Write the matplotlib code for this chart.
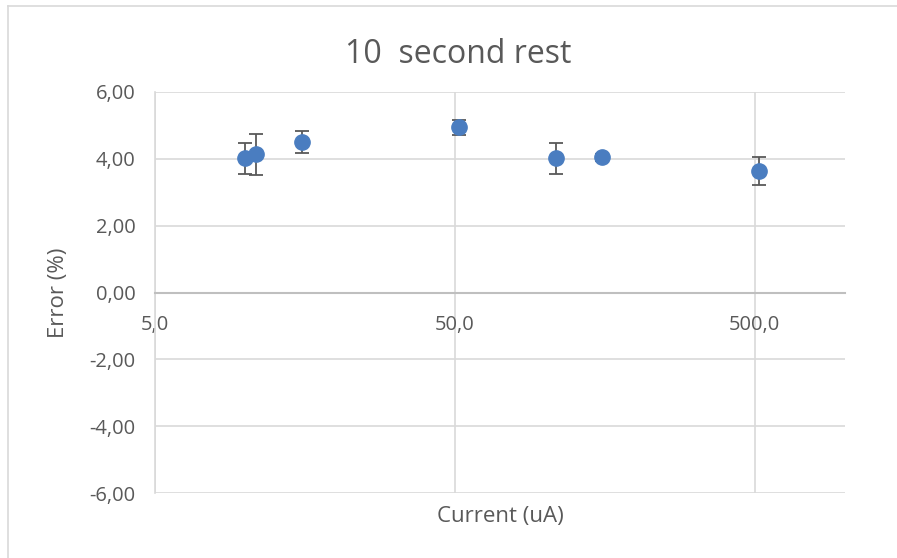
import numpy as np
import matplotlib.pyplot as plt
from matplotlib.ticker import FixedLocator, FuncFormatter, NullLocator
from matplotlib.lines import Line2D

plt.rcParams['font.family'] = ['Open Sans', 'DejaVu Sans']

# --- datos -------------------------------------------------------------
corriente = [10.0, 10.9, 15.5, 51.6, 109.0, 155.0, 515.0]   # uA
error_pct = [4.01, 4.13, 4.51, 4.94, 4.01, 4.04, 3.63]      # %
desv = [0.45, 0.60, 0.33, 0.23, 0.45, 0.10, 0.42]

x_ticks = [5.0, 50.0, 500.0]
y_ticks = [-6, -4, -2, 0, 2, 4, 6]

gris = '#595959'
grid_c = '#d9d9d9'

fig = plt.figure(figsize=(8.97, 5.58), dpi=100)
ax = fig.add_axes([155/897, 1-493/558, 690/897, 401/558])

ax.set_xscale('log')
ax.set_xlim(5, 1000)
ax.set_ylim(-6, 6)

ax.errorbar(corriente, error_pct, yerr=desv, fmt='o', color='#4a7dc0',
            markersize=11, ecolor=gris, elinewidth=1.3, capsize=4.7,
            capthick=1.3, zorder=3)

ax.xaxis.set_major_locator(FixedLocator(x_ticks))
ax.xaxis.set_minor_locator(NullLocator())
ax.xaxis.set_major_formatter(FuncFormatter(lambda v, p: f'{v:.1f}'.replace('.', ',')))
ax.yaxis.set_major_locator(FixedLocator(y_ticks))
ax.yaxis.set_major_formatter(FuncFormatter(lambda v, p: f'{v:.2f}'.replace('.', ',')))

ax.grid(True, color=grid_c, linewidth=1.2, zorder=0)
ax.set_axisbelow(True)

# eje x cruza en y = 0
for s in ['top', 'right']:
    ax.spines[s].set_visible(False)
ax.spines['bottom'].set_position(('data', 0))
ax.spines['bottom'].set_color('#bfbfbf')
ax.spines['bottom'].set_linewidth(1.5)
ax.spines['left'].set_color(grid_c)
ax.spines['left'].set_linewidth(1.2)

ax.tick_params(axis='both', length=0, labelsize=14.5, colors=gris)
ax.tick_params(axis='x', pad=16)
ax.tick_params(axis='y', pad=14)

# titulo centrado en el area del grafico (no en los ejes)
ax.set_title('10  second rest', fontsize=23, color=gris, pad=21, x=0.439)
ax.set_ylabel('Error (%)', fontsize=16, color=gris)
ax.set_xlabel('Current (uA)', fontsize=16, color=gris)
ax.yaxis.set_label_coords(-0.125, 0.5)
ax.xaxis.set_label_coords(0.5, -0.032)

# borde del grafico
fig.add_artist(Line2D([8/897, 1], [1-6/558, 1-6/558], color=grid_c, linewidth=1.2))
fig.add_artist(Line2D([8/897, 8/897], [0, 1-6/558], color=grid_c, linewidth=1.2))

fig.savefig('out.png', dpi=100)
